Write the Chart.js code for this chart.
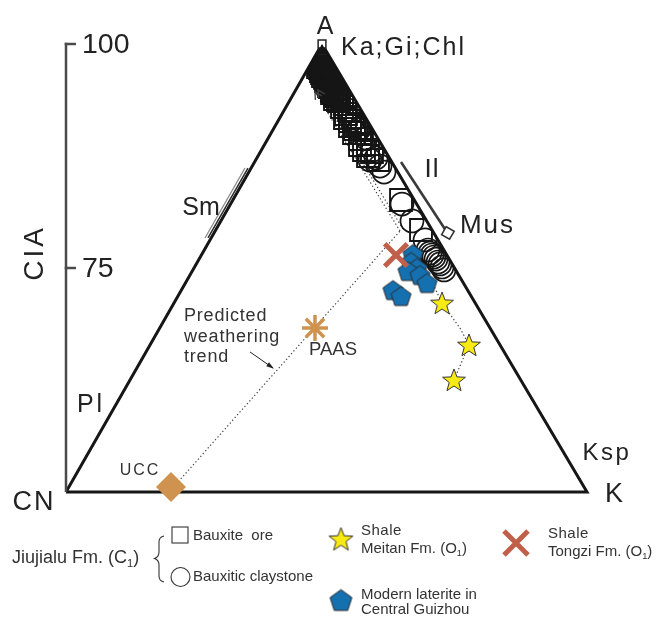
<!DOCTYPE html>
<html>
<head>
<meta charset="utf-8">
<script src="https://cdn.jsdelivr.net/npm/chart.js@4.4.1/dist/chart.umd.min.js"></script>
<style>
  html, body { margin: 0; padding: 0; background: #fff; }
  canvas { display: block; }
</style>
</head>
<body>
<canvas id="acnk" width="659" height="617"></canvas>
<script>
// A–CN–K diagram. x: position along the CN–K base (0–100), y: CIA (50–100).
const triangleCorners = [[0, 50], [49.14, 100], [100, 50], [0, 50]];
const ciaTicks = [75, 100];

// Jiujialu Fm. (C1) bauxite ore
const bauxiteOre = [
  [49.14, 99.33], [48.94, 98.88], [49.33, 98.66], [48.75, 98.33], [49.14, 98.10],
  [49.52, 97.99], [48.56, 97.77], [49.33, 97.54], [49.90, 97.54], [48.75, 97.32],
  [49.52, 97.10], [50.29, 96.99], [49.14, 96.76], [49.90, 96.65], [50.67, 96.54],
  [49.71, 96.21], [50.29, 96.09], [51.06, 95.98], [50.10, 95.76], [50.86, 95.54],
  [51.44, 95.42], [50.67, 95.20], [51.25, 94.98], [52.02, 94.87], [51.06, 94.53],
  [51.82, 94.31], [52.40, 94.20], [51.63, 93.86], [52.21, 93.75],
  [49.14, 99.00], [48.75, 98.55], [49.52, 98.33], [48.56, 97.99], [49.71, 97.77],
  [48.37, 97.43], [50.10, 97.21], [48.94, 96.99], [50.48, 96.65], [49.33, 96.43],
  [50.86, 96.21], [49.90, 95.87], [51.25, 95.65], [50.48, 95.31], [51.63, 95.09],
  [51.06, 94.75], [52.21, 94.53], [51.63, 94.20], [52.98, 93.97], [52.40, 93.64],
  [53.55, 93.30], [52.98, 92.97], [54.32, 92.63], [53.74, 92.19], [55.09, 91.85],
  [53.55, 91.74], [54.51, 91.41], [55.85, 91.07], [54.51, 90.85], [55.47, 90.51],
  [56.81, 90.07], [55.28, 90.07], [56.43, 89.40], [57.97, 88.84], [56.43, 88.73],
  [57.20, 88.17], [58.73, 87.95], [57.97, 87.50], [59.88, 87.05], [64.30, 82.59],
  [68.14, 79.24]
];
// Jiujialu Fm. (C1) bauxitic claystone
const bauxiticClaystone = [
  [54.89, 91.52], [56.43, 90.63], [56.05, 90.40], [57.58, 89.51], [58.93, 88.17],
  [59.50, 87.28], [58.35, 87.05], [60.27, 86.38], [61.04, 85.71], [64.49, 82.14],
  [66.41, 80.25], [68.91, 78.13], [69.48, 77.01], [69.87, 76.67], [70.25, 76.45],
  [70.63, 76.23], [71.02, 76.00], [71.40, 75.67], [71.79, 75.45], [72.17, 75.11],
  [72.55, 74.78]
];
// Modern laterite, central Guizhou
const lateriteGuizhou = [
  [66.60, 76.56], [66.22, 75.67], [67.37, 75.00], [65.64, 74.67],
  [67.95, 74.22], [69.29, 73.33], [62.76, 72.54], [64.30, 71.88]
];
const shaleMeitan = [[72.17, 71.09], [77.35, 66.41], [74.47, 62.50]];
const shaleTongzi = [[63.34, 76.45]];
const ucc = [[20.15, 50.56]];
const paas = [[47.79, 68.30]];

// Reference minerals and guide lines
const kaGiChl = [[49.14, 100]];
const muscovite = [[73.30, 78.91]];
const illiteLine = [[64.30, 86.83], [73.00, 79.10]];
const smectiteLineA = [[34.93, 86.16], [27.26, 78.35]];
const smectiteLineB = [[34.36, 86.16], [26.68, 78.35]];
const trendLower = [[20.15, 50.22], [64.11, 79.13]];
const trendUpperA = [[64.11, 79.13], [47.79, 94.64]];
const trendUpperB = [[64.68, 79.35], [48.37, 94.87]];
const meitanPath = [[70.44, 73.21], [72.17, 71.09], [75.62, 68.30], [77.35, 66.41], [74.47, 62.50]];
const pointerArrow = [[35.32, 65.63], [39.73, 63.84]];

const FONT = "'Liberation Sans', Arial, Helvetica, sans-serif";
const TAN = '#D0934F';
const BRICK = '#C0604A';
const BLUE = '#1570B0';
const YELLOW = '#F8EA14';

const pts = arr => arr.map(([x, y]) => ({ x, y }));

function pentagonImage(r) {
  const s = Math.ceil(2 * r + 4);
  const c = document.createElement('canvas');
  c.width = c.height = s;
  const g = c.getContext('2d');
  g.translate(s / 2, s / 2 + r * 0.1);
  g.beginPath();
  for (let i = 0; i < 5; i++) {
    const a = -Math.PI / 2 + i * 2 * Math.PI / 5;
    const px = r * Math.cos(a), py = r * Math.sin(a);
    i ? g.lineTo(px, py) : g.moveTo(px, py);
  }
  g.closePath();
  g.fillStyle = BLUE; g.fill();
  g.lineWidth = 1; g.strokeStyle = '#2b2b2b'; g.stroke();
  return c;
}

function starImage(r) {
  const s = Math.ceil(2 * r + 4);
  const c = document.createElement('canvas');
  c.width = c.height = s;
  const g = c.getContext('2d');
  g.translate(s / 2, s / 2 + r * 0.08);
  g.beginPath();
  for (let i = 0; i < 10; i++) {
    const a = -Math.PI / 2 + i * Math.PI / 5;
    const rr = i % 2 ? r * 0.42 : r;
    const px = rr * Math.cos(a), py = rr * Math.sin(a);
    i ? g.lineTo(px, py) : g.moveTo(px, py);
  }
  g.closePath();
  g.fillStyle = YELLOW; g.fill();
  g.lineWidth = 1; g.strokeStyle = '#333'; g.stroke();
  return c;
}

const pentagonMark = pentagonImage(10.5);
const starMark = starImage(12);
const pentagonLegend = pentagonImage(11.5);
const starLegend = starImage(12.5);

const guide = (data, color, width, dash) => ({
  type: 'line', data: pts(data), showLine: true, borderColor: color, borderWidth: width,
  borderDash: dash || [], pointRadius: 0, tension: 0, fill: false, clip: false
});

// Clip the Jiujialu markers to the inside of the triangle
const triangleClip = {
  id: 'triangleClip',
  beforeDatasetDraw(chart, args) {
    if (!chart.data.datasets[args.index].clipToTriangle) return;
    const { x, y } = chart.scales, ctx = chart.ctx;
    ctx.save();
    ctx.beginPath();
    triangleCorners.slice(0, 3).forEach(([a, b], i) => {
      const px = x.getPixelForValue(a), py = y.getPixelForValue(b);
      i ? ctx.lineTo(px, py) : ctx.moveTo(px, py);
    });
    ctx.closePath();
    ctx.clip();
  },
  afterDatasetDraw(chart, args) {
    if (chart.data.datasets[args.index].clipToTriangle) chart.ctx.restore();
  }
};

function text(ctx, s, x, y, size, opt = {}) {
  ctx.save();
  ctx.font = `${size}px ${FONT}`;
  ctx.fillStyle = opt.color || '#222';
  ctx.textAlign = opt.align || 'left';
  ctx.textBaseline = opt.baseline || 'middle';
  if ('letterSpacing' in ctx) ctx.letterSpacing = (opt.spacing || 0) + 'px';
  ctx.fillText(s, x, y);
  ctx.restore();
}

// Text with a subscript part, e.g. (C1)
function richText(ctx, parts, x, y, size, color) {
  ctx.save();
  ctx.fillStyle = color;
  ctx.textBaseline = 'alphabetic';
  let cx = x;
  parts.forEach(p => {
    const fs = p.sub ? size * 0.62 : size;
    ctx.font = `${fs}px ${FONT}`;
    ctx.fillText(p.t, cx, y + (p.sub ? size * 0.22 : 0));
    cx += ctx.measureText(p.t).width;
  });
  ctx.restore();
}

const decorations = {
  id: 'decorations',
  afterDraw(chart) {
    const ctx = chart.ctx;
    const { x: xs, y: ys } = chart.scales;
    const P = ([a, b]) => [xs.getPixelForValue(a), ys.getPixelForValue(b)];

    // CIA axis
    const ax = chart.chartArea.left;
    ctx.save();
    ctx.strokeStyle = '#4a4a4a';
    ctx.lineWidth = 2.5;
    ctx.beginPath();
    ctx.moveTo(ax, ys.getPixelForValue(50));
    ctx.lineTo(ax, ys.getPixelForValue(100) - 1.25);
    ctx.stroke();
    ciaTicks.forEach(t => {
      const py = ys.getPixelForValue(t);
      ctx.beginPath();
      ctx.moveTo(ax - 1.25, py);
      ctx.lineTo(ax + 10, py);
      ctx.stroke();
      text(ctx, String(t), ax + 16, py + 1, 28.5, { color: '#222' });
    });
    ctx.restore();
    ctx.save();
    ctx.translate(35, 253);
    ctx.rotate(-Math.PI / 2);
    text(ctx, 'CIA', 0, 0, 28, { align: 'center', spacing: 3 });
    ctx.restore();

    // arrowheads on the weathering trend
    ctx.save();
    ctx.strokeStyle = '#444';
    ctx.lineWidth = 1.3;
    [trendUpperA, trendUpperB].forEach(line => {
      const [x0, y0] = P(line[0]), [x1, y1] = P(line[1]);
      const ang = Math.atan2(y1 - y0, x1 - x0);
      const L = 8;
      ctx.beginPath();
      ctx.moveTo(x1 - L * Math.cos(ang - 0.5), y1 - L * Math.sin(ang - 0.5));
      ctx.lineTo(x1, y1);
      ctx.lineTo(x1 - L * Math.cos(ang + 0.5), y1 - L * Math.sin(ang + 0.5));
      ctx.stroke();
    });
    // pointer to the trend line
    const [q0x, q0y] = P(pointerArrow[0]), [q1x, q1y] = P(pointerArrow[1]);
    const pa = Math.atan2(q1y - q0y, q1x - q0x);
    ctx.strokeStyle = '#222';
    ctx.fillStyle = '#222';
    ctx.lineWidth = 1;
    ctx.beginPath(); ctx.moveTo(q0x, q0y); ctx.lineTo(q1x, q1y); ctx.stroke();
    ctx.beginPath();
    ctx.moveTo(q1x + 1, q1y + 0.7);
    ctx.lineTo(q1x - 7 * Math.cos(pa - 0.35), q1y - 7 * Math.sin(pa - 0.35));
    ctx.lineTo(q1x - 7 * Math.cos(pa + 0.35), q1y - 7 * Math.sin(pa + 0.35));
    ctx.closePath(); ctx.fill();
    ctx.restore();

    // corner and mineral labels
    const [apx, apy] = P(triangleCorners[1]);
    const [cnx, cny] = P(triangleCorners[0]);
    const [kx, ky] = P(triangleCorners[2]);
    text(ctx, 'A', apx + 3, apy - 17, 25, { align: 'center' });
    text(ctx, 'Ka;Gi;Chl', apx + 19, apy + 4, 25, { spacing: 2 });
    const [mx, my] = P(muscovite[0]);
    text(ctx, 'Mus', mx + 12, my - 7, 26, { spacing: 2 });
    text(ctx, 'Il', 432, 170, 26, { align: 'center', spacing: 1 });
    text(ctx, 'Sm', 201, 208, 25, { align: 'center' });
    text(ctx, 'Pl', 91, 405, 25, { align: 'center', spacing: 3 });
    text(ctx, 'Ksp', 607, 453, 24, { align: 'center', spacing: 2.5 });
    text(ctx, 'K', kx + 27, ky + 3, 27, { align: 'center' });
    text(ctx, 'CN', cnx - 32, cny + 11, 27, { align: 'center', spacing: 2 });
    const [ux, uy] = P(ucc[0]);
    text(ctx, 'UCC', ux - 31, uy - 16, 16, { align: 'center', spacing: 2, color: '#333' });
    const [px, py] = P(paas[0]);
    text(ctx, 'PAAS', px + 18, py + 22, 18.5, { align: 'center', color: '#333' });
    ['Predicted', 'weathering', 'trend'].forEach((s, i) =>
      text(ctx, s, 184, 321 + i * 20.5, 18, { baseline: 'alphabetic', spacing: 0.8, color: '#333' }));

    // legend
    ctx.save();
    ctx.strokeStyle = '#333';
    ctx.lineWidth = 1.1;
    ctx.strokeRect(172, 527, 16, 16);
    ctx.beginPath(); ctx.arc(180.5, 577, 9.5, 0, Math.PI * 2); ctx.stroke();
    // brace
    ctx.beginPath();
    ctx.moveTo(164, 536);
    ctx.quadraticCurveTo(159, 537, 159, 542);
    ctx.lineTo(159, 552);
    ctx.quadraticCurveTo(159, 557, 154.5, 558.5);
    ctx.quadraticCurveTo(159, 560, 159, 565);
    ctx.lineTo(159, 576);
    ctx.quadraticCurveTo(159, 581, 164, 582);
    ctx.stroke();
    // Tongzi cross
    ctx.strokeStyle = BRICK;
    ctx.lineWidth = 5;
    ctx.beginPath();
    ctx.moveTo(504, 531); ctx.lineTo(528, 555);
    ctx.moveTo(528, 531); ctx.lineTo(504, 555);
    ctx.stroke();
    ctx.drawImage(starLegend, 341 - starLegend.width / 2, 539 - starLegend.height / 2);
    ctx.drawImage(pentagonLegend, 341 - pentagonLegend.width / 2, 600 - pentagonLegend.height / 2);
    ctx.restore();

    richText(ctx, [{ t: 'Jiujialu Fm. (C' }, { t: '1', sub: true }, { t: ')' }], 12, 563, 18, '#333');
    text(ctx, 'Bauxite  ore', 193, 536, 15, { color: '#333' });
    text(ctx, 'Bauxitic claystone', 193, 577, 15, { color: '#333' });
    text(ctx, 'Shale', 361, 531, 15, { color: '#333', spacing: 0.5 });
    richText(ctx, [{ t: 'Meitan Fm. (O' }, { t: '1', sub: true }, { t: ')' }], 361, 553, 15, '#333');
    text(ctx, 'Shale', 548, 534, 15, { color: '#333', spacing: 0.5 });
    richText(ctx, [{ t: 'Tongzi Fm. (O' }, { t: '1', sub: true }, { t: ')' }], 548, 556, 15, '#333');
    text(ctx, 'Modern laterite in', 361, 595, 15, { color: '#333' });
    text(ctx, 'Central Guizhou', 361, 610, 15, { color: '#333' });
  }
};

new Chart(document.getElementById('acnk'), {
  type: 'scatter',
  data: {
    datasets: [
      { label: 'PAAS', data: pts(paas), pointStyle: 'star', pointRadius: 13,
        borderColor: TAN, backgroundColor: TAN, pointBorderWidth: 3.5, clip: false },
      { label: 'UCC', data: pts(ucc), pointStyle: 'rectRot', pointRadius: 15,
        backgroundColor: TAN, borderColor: TAN, pointBorderWidth: 0, clip: false },
      { label: 'Shale, Meitan Fm. (O1)', data: pts(shaleMeitan), pointStyle: starMark,
        pointRadius: 12, clip: false },
      { label: 'Shale, Tongzi Fm. (O1)', data: pts(shaleTongzi), pointStyle: 'crossRot',
        pointRadius: 16, borderColor: BRICK, pointBorderWidth: 5, clip: false },
      { label: 'Modern laterite in Central Guizhou', data: pts(lateriteGuizhou),
        pointStyle: pentagonMark, pointRadius: 11, clip: false },
      { label: 'Bauxitic claystone', data: pts(bauxiticClaystone), pointStyle: 'circle',
        pointRadius: 11.5, backgroundColor: 'rgba(0,0,0,0)', borderColor: '#151515',
        pointBorderWidth: 1.7, clip: false, clipToTriangle: true },
      { label: 'Bauxite ore', data: pts(bauxiteOre), pointStyle: 'rect',
        pointRadius: 15.5, backgroundColor: 'rgba(0,0,0,0)', borderColor: '#151515',
        pointBorderWidth: 1.9, clip: false, clipToTriangle: true },
      { label: 'Ka;Gi;Chl', data: pts(kaGiChl), pointStyle: 'rect', pointRadius: 5.5,
        backgroundColor: '#fff', borderColor: '#222', pointBorderWidth: 1.5, clip: false },
      { label: 'Mus', data: pts(muscovite), pointStyle: 'rect', pointRotation: 30,
        pointRadius: 6.5, backgroundColor: '#fff', borderColor: '#333', pointBorderWidth: 1.6, clip: false },
      guide(triangleCorners, '#161616', 3),
      guide(illiteLine, '#3a3a3a', 2.6),
      guide(smectiteLineA, '#2a2a2a', 1.5),
      guide(smectiteLineB, '#8a8a8a', 1.3),
      guide(trendLower, '#444', 1.2, [1.3, 2.4]),
      guide(trendUpperA, '#444', 1.2, [1.3, 2.4]),
      guide(trendUpperB, '#444', 1.2, [1.3, 2.4]),
      guide(meitanPath, '#444', 1.2, [1.3, 2.4])
    ]
  },
  options: {
    responsive: false,
    animation: false,
    events: [],
    layout: { padding: { left: 66, top: 44, right: 72, bottom: 125 } },
    scales: {
      x: { type: 'linear', min: 0, max: 100, display: false },
      y: { type: 'linear', min: 50, max: 100, display: false }
    },
    elements: { line: { borderJoinStyle: 'miter' } },
    plugins: { legend: { display: false }, tooltip: { enabled: false } }
  },
  plugins: [triangleClip, decorations]
});
</script>
</body>
</html>
